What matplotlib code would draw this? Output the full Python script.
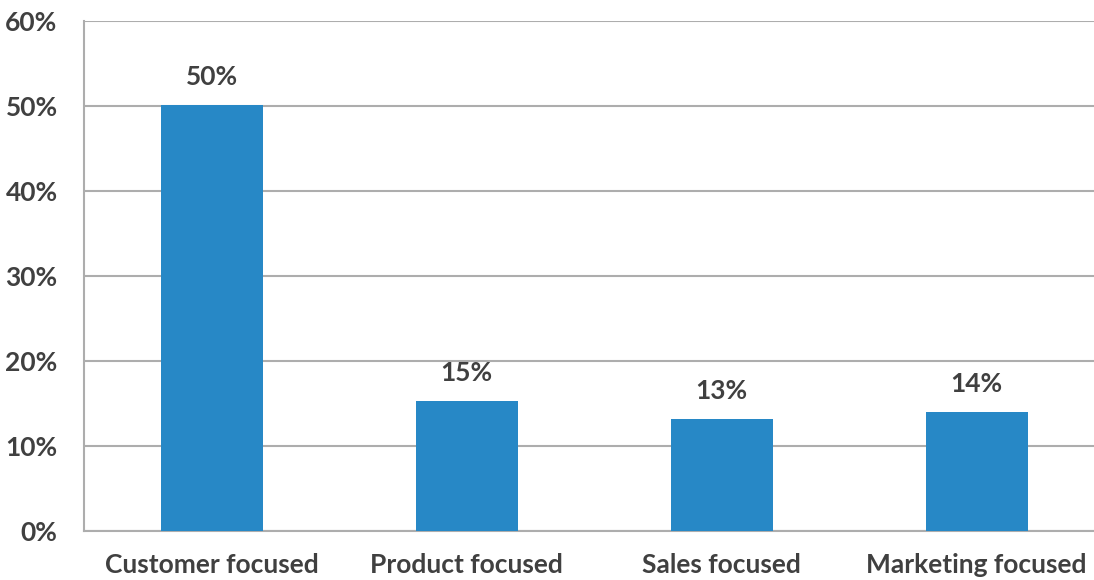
import matplotlib
matplotlib.use("Agg")
import matplotlib.pyplot as plt
from matplotlib.ticker import FuncFormatter

categories = ["Customer focused", "Product focused", "Sales focused", "Marketing focused"]
values = [50.1, 15.3, 13.2, 14.0]
yticks = [0, 10, 20, 30, 40, 50, 60]

plt.rcParams['font.family'] = ['Lato', 'DejaVu Sans']
text_color = "#404040"
bar_color = "#2788C6"
grid_color = "#ADADAD"

fig = plt.figure(figsize=(10.94, 5.8), dpi=100)
ax = fig.add_axes([84 / 1094, 1 - 531 / 580, 1 - 84 / 1094, (531 - 21) / 580])

x = range(len(categories))
bars = ax.bar(x, values, width=0.4, color=bar_color, zorder=3)

for b, v in zip(bars, values):
    ax.text(b.get_x() + b.get_width() / 2, v + 1.9, "%.0f%%" % v,
            ha="center", va="bottom", fontsize=19, fontweight="bold", color=text_color)

ax.set_ylim(0, 60)
ax.set_xlim(-0.5, 3.46)
ax.set_yticks(yticks)
ax.yaxis.set_major_formatter(FuncFormatter(lambda v, p: "%d%%" % v))
ax.set_xticks(list(x))
ax.set_xticklabels(categories)
ax.grid(axis="y", color=grid_color, linewidth=1.5, zorder=0)
ax.tick_params(axis="both", length=0, labelsize=19, labelcolor=text_color)
ax.tick_params(axis="y", pad=19)
ax.tick_params(axis="x", pad=16)
for lab in ax.get_xticklabels() + ax.get_yticklabels():
    lab.set_fontweight("bold")

for s in ["top", "right"]:
    ax.spines[s].set_visible(False)
ax.spines["left"].set_color(grid_color)
ax.spines["bottom"].set_color(grid_color)
ax.spines["left"].set_linewidth(1.5)
ax.spines["bottom"].set_linewidth(1.5)

fig.savefig("out.png", dpi=100)
